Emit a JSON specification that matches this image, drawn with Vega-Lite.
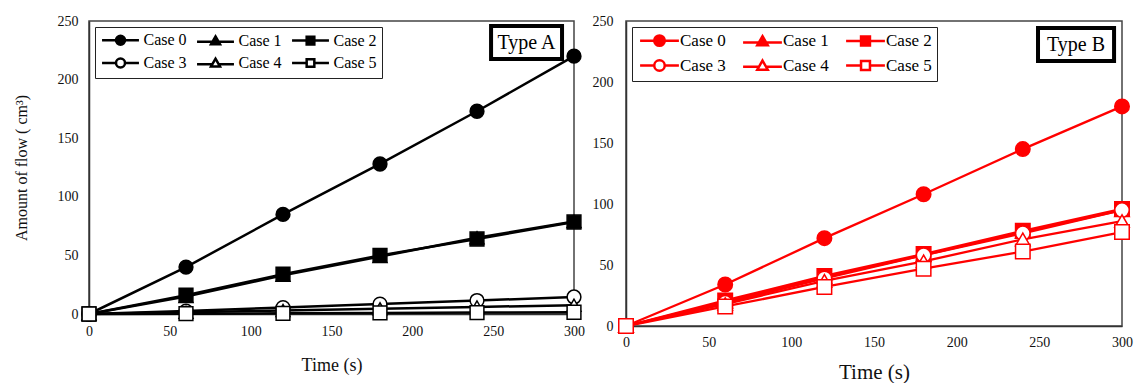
{
  "$schema": "https://vega.github.io/schema/vega-lite/v6.json",
  "background": "white",
  "padding": {"left": 12, "top": 13, "right": 0, "bottom": 0},
  "spacing": 5,
  "datasets": {
    "A": [
      {"case": "Case 0", "time": 0, "flow": 0}, {"case": "Case 0", "time": 60, "flow": 40}, {"case": "Case 0", "time": 120, "flow": 85}, {"case": "Case 0", "time": 180, "flow": 128}, {"case": "Case 0", "time": 240, "flow": 173}, {"case": "Case 0", "time": 300, "flow": 220},
      {"case": "Case 1", "time": 0, "flow": 0}, {"case": "Case 1", "time": 60, "flow": 15}, {"case": "Case 1", "time": 120, "flow": 33}, {"case": "Case 1", "time": 180, "flow": 49}, {"case": "Case 1", "time": 240, "flow": 65}, {"case": "Case 1", "time": 300, "flow": 79},
      {"case": "Case 2", "time": 0, "flow": 0}, {"case": "Case 2", "time": 60, "flow": 16}, {"case": "Case 2", "time": 120, "flow": 34}, {"case": "Case 2", "time": 180, "flow": 50}, {"case": "Case 2", "time": 240, "flow": 64}, {"case": "Case 2", "time": 300, "flow": 78.5},
      {"case": "Case 3", "time": 0, "flow": 0}, {"case": "Case 3", "time": 60, "flow": 2.5}, {"case": "Case 3", "time": 120, "flow": 5.5}, {"case": "Case 3", "time": 180, "flow": 8.5}, {"case": "Case 3", "time": 240, "flow": 11.5}, {"case": "Case 3", "time": 300, "flow": 14.5},
      {"case": "Case 4", "time": 0, "flow": 0}, {"case": "Case 4", "time": 60, "flow": 1.5}, {"case": "Case 4", "time": 120, "flow": 3}, {"case": "Case 4", "time": 180, "flow": 4.5}, {"case": "Case 4", "time": 240, "flow": 6}, {"case": "Case 4", "time": 300, "flow": 7.5},
      {"case": "Case 5", "time": 0, "flow": 0}, {"case": "Case 5", "time": 60, "flow": 0.3}, {"case": "Case 5", "time": 120, "flow": 0.6}, {"case": "Case 5", "time": 180, "flow": 0.9}, {"case": "Case 5", "time": 240, "flow": 1.2}, {"case": "Case 5", "time": 300, "flow": 1.5}
    ],
    "B": [
      {"case": "Case 0", "time": 0, "flow": 0}, {"case": "Case 0", "time": 60, "flow": 34}, {"case": "Case 0", "time": 120, "flow": 72}, {"case": "Case 0", "time": 180, "flow": 108}, {"case": "Case 0", "time": 240, "flow": 145}, {"case": "Case 0", "time": 300, "flow": 180},
      {"case": "Case 1", "time": 0, "flow": 0}, {"case": "Case 1", "time": 60, "flow": 20}, {"case": "Case 1", "time": 120, "flow": 40}, {"case": "Case 1", "time": 180, "flow": 58}, {"case": "Case 1", "time": 240, "flow": 77}, {"case": "Case 1", "time": 300, "flow": 95},
      {"case": "Case 2", "time": 0, "flow": 0}, {"case": "Case 2", "time": 60, "flow": 21}, {"case": "Case 2", "time": 120, "flow": 41}, {"case": "Case 2", "time": 180, "flow": 59}, {"case": "Case 2", "time": 240, "flow": 78}, {"case": "Case 2", "time": 300, "flow": 96},
      {"case": "Case 3", "time": 0, "flow": 0}, {"case": "Case 3", "time": 60, "flow": 19}, {"case": "Case 3", "time": 120, "flow": 39}, {"case": "Case 3", "time": 180, "flow": 58}, {"case": "Case 3", "time": 240, "flow": 76}, {"case": "Case 3", "time": 300, "flow": 95},
      {"case": "Case 4", "time": 0, "flow": 0}, {"case": "Case 4", "time": 60, "flow": 18}, {"case": "Case 4", "time": 120, "flow": 37}, {"case": "Case 4", "time": 180, "flow": 53}, {"case": "Case 4", "time": 240, "flow": 71}, {"case": "Case 4", "time": 300, "flow": 86},
      {"case": "Case 5", "time": 0, "flow": 0}, {"case": "Case 5", "time": 60, "flow": 16}, {"case": "Case 5", "time": 120, "flow": 32}, {"case": "Case 5", "time": 180, "flow": 47}, {"case": "Case 5", "time": 240, "flow": 61}, {"case": "Case 5", "time": 300, "flow": 77}
    ]
  },
  "hconcat": [
    {
      "width": 485,
      "height": 293,
      "data": {"name": "A"},
      "layer": [
        {
          "mark": {"type": "line", "stroke": "black", "strokeWidth": 2.5},
          "encoding": {
            "x": {"field": "time", "type": "quantitative", "scale": {"domain": [0, 300], "nice": false},
              "axis": {"title": "Time (s)", "values": [0, 50, 100, 150, 200, 250, 300], "ticks": false, "labelPadding": 10, "labelFontSize": 14, "labelFlush": false, "titleFontSize": 18, "titlePadding": 18}},
            "y": {"field": "flow", "type": "quantitative", "scale": {"domain": [0, 250], "nice": false},
              "axis": {"title": "Amount of flow ( cm³)", "values": [0, 50, 100, 150, 200, 250], "ticks": false, "labelPadding": 11, "labelFontSize": 14, "titleFontSize": 16, "titlePadding": 28}},
            "detail": {"field": "case"}
          }
        },
        {
          "mark": {"type": "point", "filled": true, "stroke": "black", "strokeWidth": 1.5, "size": 190, "opacity": 1},
          "encoding": {
            "x": {"field": "time", "type": "quantitative"},
            "y": {"field": "flow", "type": "quantitative"},
            "shape": {"field": "case", "type": "nominal", "legend": null,
              "scale": {"domain": ["Case 0", "Case 3", "Case 1", "Case 4", "Case 2", "Case 5"], "range": ["circle", "circle", "triangle-up", "triangle-up", "square", "square"]}},
            "fill": {"field": "case", "type": "nominal",
              "scale": {"domain": ["Case 0", "Case 1", "Case 2", "Case 3", "Case 4", "Case 5"], "range": ["black", "black", "black", "white", "white", "white"]},
              "legend": {"title": null, "orient": "top-left", "offset": 6, "direction": "horizontal", "columns": 3, "columnPadding": 5, "rowPadding": 3, "padding": 5,
                "strokeColor": "#222", "fillColor": "white", "labelFontSize": 16, "labelColor": "black", "labelFont": "Liberation Serif",
                "symbolSize": 81, "symbolStrokeWidth": 2.5, "symbolStrokeColor": "black", "symbolOffset": 12.5, "labelOffset": 15,
                "symbolType": {"expr": "(datum.value==='Case 0'||datum.value==='Case 3') ? 'M-4.1,0H-1M1,0H4.1M-1,0A1,1 0 1,1 1,0A1,1 0 1,1 -1,0Z' : (datum.value==='Case 1'||datum.value==='Case 4') ? 'M-4.1,0.25H-0.69M0.69,0.25H4.1M0,-0.95L1,0.8L-1,0.8Z' : 'M-4.1,0H-0.85M0.85,0H4.1M-0.85,-0.85H0.85V0.85H-0.85Z'"},
                "encode": {"symbols": {
                  "stroke": {"value": "black"},
                  "strokeWidth": {"value": 2.5}
                }}
              }}
          }
        },
        {
          "data": {"values": [{}]},
          "mark": {"type": "rect", "fill": "white", "stroke": "black", "strokeWidth": 4},
          "encoding": {"x": {"datum": 248.7}, "x2": {"datum": 292.6}, "y": {"datum": 245.7}, "y2": {"datum": 217.6}}
        },
        {
          "data": {"values": [{}]},
          "mark": {"type": "text", "text": "Type A", "font": "Liberation Serif", "fontSize": 20, "color": "black", "align": "center", "baseline": "middle"},
          "encoding": {"x": {"datum": 270.6}, "y": {"datum": 231.2}}
        }
      ]
    },
    {
      "width": 496,
      "height": 305,
      "data": {"name": "B"},
      "layer": [
        {
          "mark": {"type": "line", "stroke": "#ff0000", "strokeWidth": 2.3},
          "encoding": {
            "x": {"field": "time", "type": "quantitative", "scale": {"domain": [0, 300], "nice": false},
              "axis": {"title": "Time (s)", "values": [0, 50, 100, 150, 200, 250, 300], "ticks": false, "labelPadding": 9, "labelFontSize": 14, "labelFlush": false, "titleFontSize": 21, "titlePadding": 12}},
            "y": {"field": "flow", "type": "quantitative", "scale": {"domain": [0, 250], "nice": false},
              "axis": {"title": null, "values": [0, 50, 100, 150, 200, 250], "ticks": false, "labelPadding": 13, "labelFontSize": 14}},
            "detail": {"field": "case"}
          }
        },
        {
          "mark": {"type": "point", "filled": true, "stroke": "#ff0000", "strokeWidth": 1.5, "size": 210, "opacity": 1},
          "encoding": {
            "x": {"field": "time", "type": "quantitative"},
            "y": {"field": "flow", "type": "quantitative"},
            "shape": {"field": "case", "type": "nominal", "legend": null,
              "scale": {"domain": ["Case 0", "Case 3", "Case 1", "Case 4", "Case 2", "Case 5"], "range": ["circle", "circle", "triangle-up", "triangle-up", "square", "square"]}},
            "fill": {"field": "case", "type": "nominal",
              "scale": {"domain": ["Case 0", "Case 1", "Case 2", "Case 3", "Case 4", "Case 5"], "range": ["#ff0000", "#ff0000", "#ff0000", "white", "white", "white"]},
              "legend": {"title": null, "orient": "top-left", "offset": 6, "direction": "horizontal", "columns": 3, "columnPadding": 12, "rowPadding": 4, "padding": 5,
                "strokeColor": "#222", "fillColor": "white", "labelFontSize": 17, "labelColor": "black", "labelFont": "Liberation Serif",
                "symbolSize": 110, "symbolStrokeWidth": 2.5, "symbolStrokeColor": "#ff0000", "symbolOffset": 14, "labelOffset": 12,
                "symbolType": {"expr": "(datum.value==='Case 0'||datum.value==='Case 3') ? 'M-3.7,0H-1M1,0H3.7M-1,0A1,1 0 1,1 1,0A1,1 0 1,1 -1,0Z' : (datum.value==='Case 1'||datum.value==='Case 4') ? 'M-3.7,0.25H-0.69M0.69,0.25H3.7M0,-0.95L1,0.8L-1,0.8Z' : 'M-3.7,0H-0.85M0.85,0H3.7M-0.85,-0.85H0.85V0.85H-0.85Z'"},
                "encode": {"symbols": {
                  "stroke": {"value": "#ff0000"},
                  "strokeWidth": {"value": 2.5}
                }}
              }}
          }
        },
        {
          "data": {"values": [{}]},
          "mark": {"type": "rect", "fill": "white", "stroke": "black", "strokeWidth": 4},
          "encoding": {"x": {"datum": 249.2}, "x2": {"datum": 295.2}, "y": {"datum": 244.3}, "y2": {"datum": 217.2}}
        },
        {
          "data": {"values": [{}]},
          "mark": {"type": "text", "text": "Type B", "font": "Liberation Serif", "fontSize": 20, "color": "black", "align": "center", "baseline": "middle"},
          "encoding": {"x": {"datum": 272.2}, "y": {"datum": 230.2}}
        }
      ]
    }
  ],
  "resolve": {
    "scale": {"x": "independent", "y": "independent", "shape": "independent", "fill": "independent"},
    "legend": {"shape": "independent", "fill": "independent"}
  },
  "config": {
    "font": "Liberation Serif",
    "view": {"stroke": "#444", "strokeWidth": 1.5},
    "axis": {"labelFont": "Liberation Serif", "titleFont": "Liberation Serif", "labelColor": "#111", "titleColor": "#111", "titleFontWeight": "normal", "grid": false, "domainColor": "#333", "domainWidth": 1.5},
    "legend": {"labelFont": "Liberation Serif"},
    "title": {"font": "Liberation Serif"}
  }
}
